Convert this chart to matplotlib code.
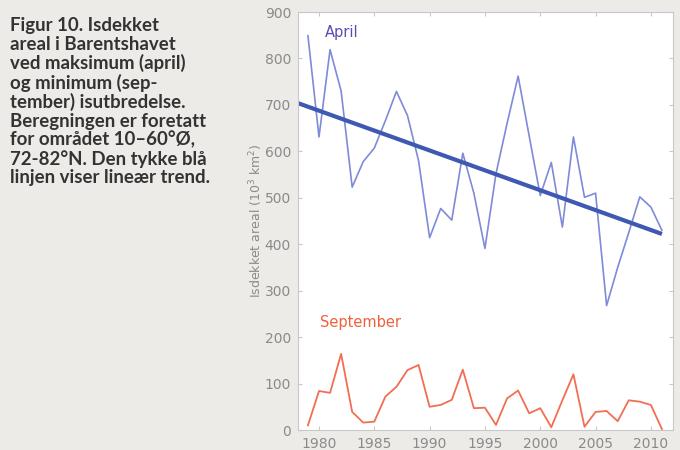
import numpy as np
import matplotlib
matplotlib.use("Agg")
import matplotlib.pyplot as plt

# Ice covered area in the Barents Sea (10^3 km^2)
years = np.arange(1979, 2012)
april = [849, 631, 819, 730, 523, 578, 607, 666, 729, 677, 580, 414,
         477, 452, 596, 510, 391, 552, 660, 762, 633, 505, 576, 437,
         631, 501, 510, 268, 350, 425, 502, 480, 430]
september = [10, 84, 80, 164, 39, 16, 18, 72, 93, 129, 140, 50,
             54, 65, 130, 47, 48, 11, 68, 85, 36, 47, 6, 64,
             120, 7, 39, 41, 19, 64, 61, 54, 2]

caption = ("Figur 10. Isdekket\n"
           "areal i Barentshavet\n"
           "ved maksimum (april)\n"
           "og minimum (sep-\n"
           "tember) isutbredelse.\n"
           "Beregningen er foretatt\n"
           "for området 10\u201360\u00b0\u00d8,\n"
           "72-82\u00b0N. Den tykke blå\n"
           "linjen viser lineær trend.")

bg = "#ecebe7"
fig = plt.figure(figsize=(6.8, 4.5), dpi=100, facecolor=bg)
ax = fig.add_axes([0.4382, 0.0444, 0.5515, 0.9289])
ax.set_facecolor("white")

ax.plot(years, april, color="#7f8ad8", lw=1.2)
# linear trend of the April series
k, m = np.polyfit(years, april, 1)
tx = np.array([1978.1, years[-1]])
ax.plot(tx, k * tx + m, color="#3f58b2", lw=3, solid_capstyle="butt")
ax.plot(years, september, color="#f26e52", lw=1.3)

ax.text(1980.5, 855, "April", color="#5a4db3", fontsize=10.5,
        va="center", ha="left")
ax.text(1980.1, 231, "September", color="#f0603c", fontsize=10.5,
        va="center", ha="left")

ax.set_xlim(1978.1, 2012)
ax.set_ylim(0, 900)
ax.set_xticks(np.arange(1980, 2011, 5))
ax.set_yticks(np.arange(0, 901, 100))
ax.tick_params(direction="in", length=3, color="#c8c8c8", labelcolor="#8a8a8a",
               labelsize=10, top=True, right=True, pad=5)
for s in ax.spines.values():
    s.set_color("#c8c8c8")
    s.set_linewidth(0.8)
ax.set_ylabel("Isdekket areal (10$^3$ km$^2$)", color="#8a8a8a", fontsize=9,
              labelpad=0)

fig.text(0.0147, 0.962, caption, fontfamily="Lato", fontweight="bold",
         fontsize=13.4, color="#333333", va="top", ha="left", linespacing=1.1)

fig.savefig("out.png", dpi=100, facecolor=bg)
